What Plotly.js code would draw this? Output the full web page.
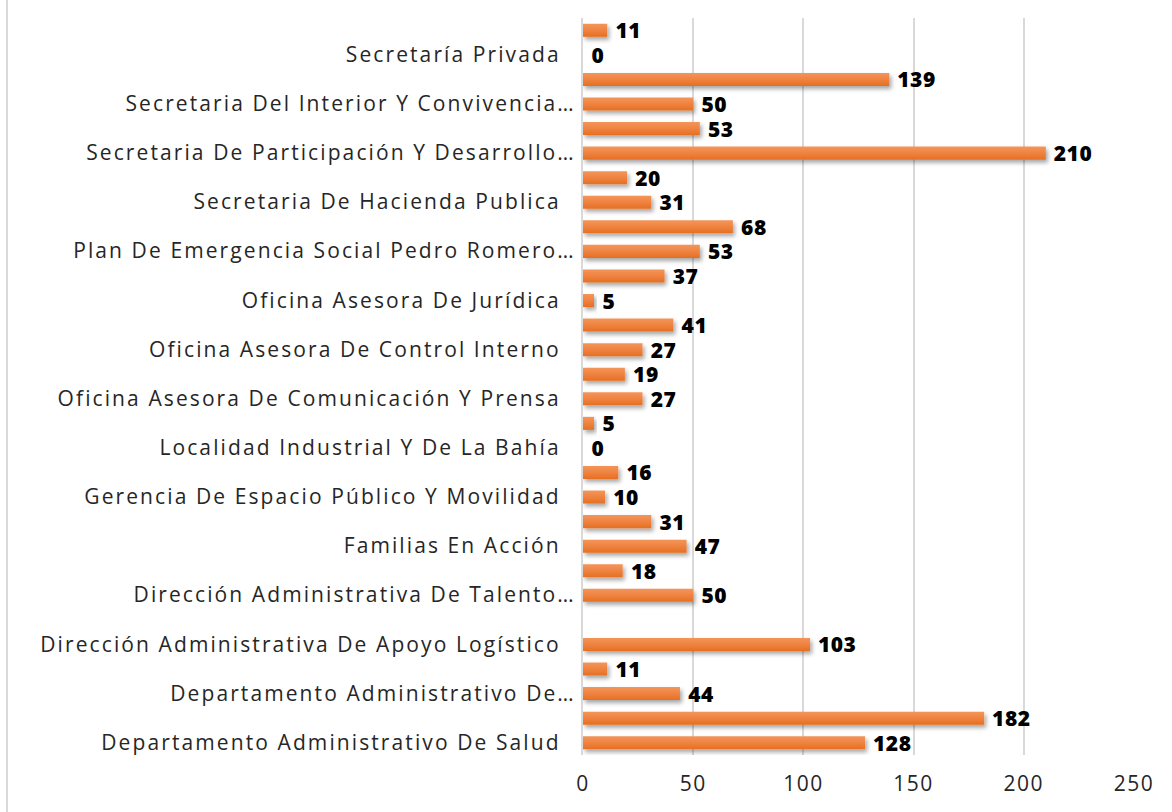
<!DOCTYPE html>
<html>
<head>
<meta charset="utf-8">
<script src="https://cdn.plot.ly/plotly-3.0.1.min.js"></script>
<style>
  html, body { margin: 0; padding: 0; background: #ffffff; }
  #chart { width: 1172px; height: 812px; }
  #chart .ytick text { letter-spacing: 2.1px; }
  #chart .xtick text { letter-spacing: 1.5px; }
  #chart .bartext { letter-spacing: 0.5px; }
</style>
</head>
<body>
<div id="chart"></div>
<script>
// Categories (bottom to top as drawn)
const categories = [
  "Departamento Administrativo De Salud",
  "Departamento Administrativo De…",
  "Dirección Administrativa De Apoyo Logístico",
  "Dirección Administrativa De Talento…",
  "Familias En Acción",
  "Gerencia De Espacio Público Y Movilidad",
  "Localidad Industrial Y De La Bahía",
  "Oficina Asesora De Comunicación Y Prensa",
  "Oficina Asesora De Control Interno",
  "Oficina Asesora De Jurídica",
  "Plan De Emergencia Social Pedro Romero…",
  "Secretaria De Hacienda Publica",
  "Secretaria De Participación Y Desarrollo…",
  "Secretaria Del Interior Y Convivencia…",
  "Secretaría Privada"
];
// lower bar of each pair
const seriesLower = [128, 44, 103, 50, 47, 10, 0, 27, 27, 5, 53, 31, 210, 50, 0];
// upper bar of each pair (null = no bar)
const seriesUpper = [182, 11, null, 18, 31, 16, 5, 19, 41, 37, 68, 20, 53, 139, 11];
const xTicks = [0, 50, 100, 150, 200, 250];

const barColor = "#ED7D31";
const labelFont = { family: "Open Sans, sans-serif", size: 21, color: "#000000", weight: 800 };

const tickText = categories.map(c => c.endsWith("…") ? c : c + "\u00a0\u00a0");

function mk(vals, name) {
  return {
    type: "bar",
    orientation: "h",
    name: name,
    y: categories,
    x: vals,
    marker: { color: barColor, line: { width: 0 } },
    text: vals.map(v => v === null ? "" : String(v)),
    texttemplate: vals.map(v => v === null ? "" : "\u00a0%{text}"),
    textposition: "outside",
    constraintext: "none",
    cliponaxis: false,
    textfont: labelFont,
    hoverinfo: "x+y"
  };
}

const data = [mk(seriesLower, "Serie 1"), mk(seriesUpper, "Serie 2")];

const layout = {
  width: 1172,
  height: 812,
  margin: { l: 583, r: 38, t: 18, b: 57, pad: 0 },
  paper_bgcolor: "#ffffff",
  plot_bgcolor: "#ffffff",
  showlegend: false,
  barmode: "group",
  bargap: 0,
  bargroupgap: 0.47,
  uniformtext: { mode: false },
  font: { family: "Open Sans, sans-serif", color: "#262626" },
  xaxis: {
    range: [0, 250],
    tickvals: xTicks,
    ticktext: xTicks.map(String),
    showgrid: true,
    gridcolor: "#d9d9d9",
    gridwidth: 2,
    zeroline: false,
    showline: false,
    ticks: "",
    ticklabelstandoff: 14,
    tickfont: { family: "Open Sans, sans-serif", size: 21, color: "#262626" },
    fixedrange: true
  },
  yaxis: {
    type: "category",
    categoryorder: "array",
    categoryarray: categories,
    tickmode: "array",
    tickvals: categories,
    ticktext: tickText,
    showgrid: false,
    zeroline: false,
    showline: true,
    linecolor: "#d9d9d9",
    linewidth: 2,
    ticks: "",
    ticklabelshift: 12,
    ticklabelstandoff: 1,
    tickfont: { family: "Open Sans, sans-serif", size: 21, color: "#262626" },
    fixedrange: true
  },
  shapes: [{
    type: "line", xref: "paper", yref: "paper",
    x0: -1.0454, x1: -1.0454, y0: -0.1, y1: 1.05,
    line: { color: "#d9d9d9", width: 2 }
  }]
};

Plotly.newPlot("chart", data, layout, { displayModeBar: false, staticPlot: true }).then(function () {
  const svg = document.querySelector("#chart .main-svg");
  const ns = "http://www.w3.org/2000/svg";
  let defs = svg.querySelector("defs");
  if (!defs) { defs = document.createElementNS(ns, "defs"); svg.insertBefore(defs, svg.firstChild); }
  const grad = document.createElementNS(ns, "linearGradient");
  grad.setAttribute("id", "barGrad");
  grad.setAttribute("x1", "0"); grad.setAttribute("y1", "0");
  grad.setAttribute("x2", "0"); grad.setAttribute("y2", "1");
  [["0", "#F4955A"], ["0.5", "#EF8340"], ["1", "#E56F22"]].forEach(function (s) {
    const st = document.createElementNS(ns, "stop");
    st.setAttribute("offset", s[0]); st.setAttribute("stop-color", s[1]);
    grad.appendChild(st);
  });
  defs.appendChild(grad);
  const filt = document.createElementNS(ns, "filter");
  filt.setAttribute("id", "barShadow");
  filt.setAttribute("x", "-10%"); filt.setAttribute("y", "-40%");
  filt.setAttribute("width", "130%"); filt.setAttribute("height", "200%");
  const ds = document.createElementNS(ns, "feDropShadow");
  ds.setAttribute("dx", "2"); ds.setAttribute("dy", "3");
  ds.setAttribute("stdDeviation", "2");
  ds.setAttribute("flood-color", "#000000");
  ds.setAttribute("flood-opacity", "0.35");
  filt.appendChild(ds);
  defs.appendChild(filt);
  document.querySelectorAll("#chart .barlayer .point path").forEach(function (p) {
    p.style.fill = "url(#barGrad)";
    p.setAttribute("filter", "url(#barShadow)");
  });
});
</script>
</body>
</html>
